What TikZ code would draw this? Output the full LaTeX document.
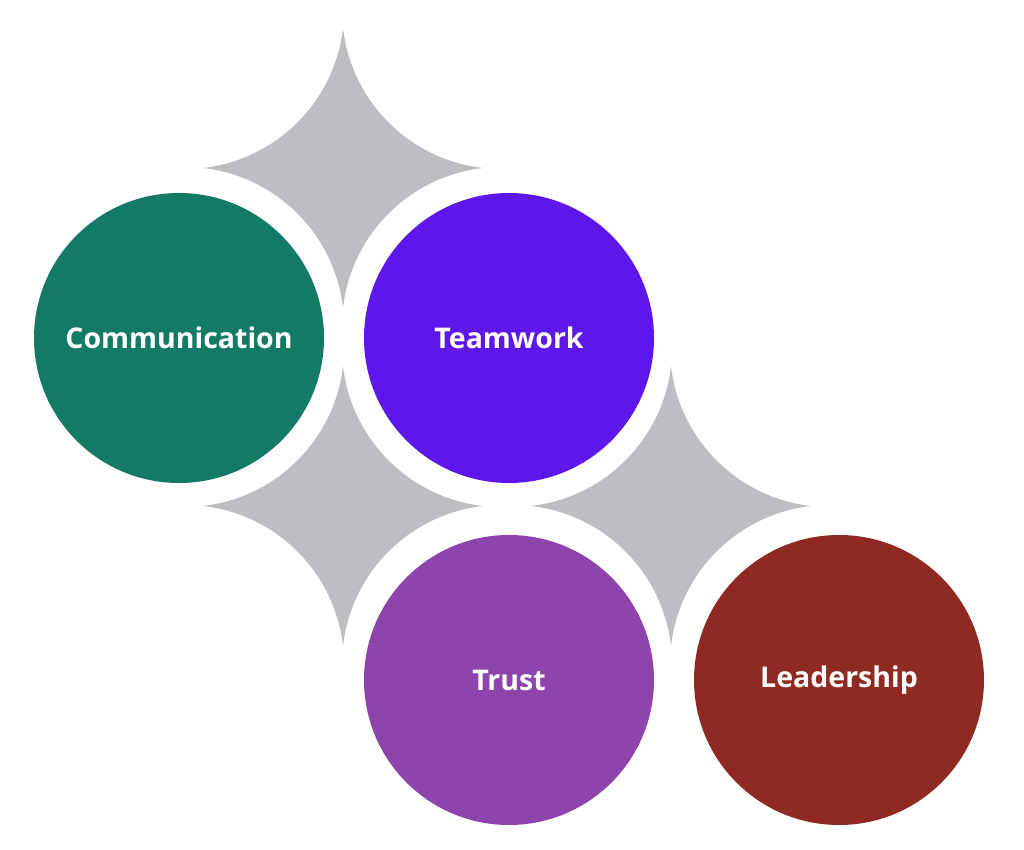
\documentclass[tikz,border=0pt]{standalone}
\usepackage{fontspec}
\setmainfont{Open Sans}
\definecolor{cteal}{HTML}{137A65}
\definecolor{cviolet}{HTML}{5E17EB}
\definecolor{cplum}{HTML}{8E44AD}
\definecolor{crust}{HTML}{8F2A22}
\definecolor{cgray}{HTML}{BDBEC2}
\newcommand\gstar[3]{% name, cx, cy
  \fill[cgray] (#2,#3+140) arc[start angle=186.5,end angle=263.5,radius=159.02]
    arc[start angle=96.5,end angle=173.5,radius=159.02]
    arc[start angle=6.5,end angle=83.5,radius=159.02]
    arc[start angle=276.5,end angle=353.5,radius=159.02] -- cycle;
  \coordinate (#1) at (#2,#3);}
\tikzset{
  bubble/.style={circle, minimum size=290pt, inner sep=0pt, text=white,
    font=\fontsize{28.5}{32}\selectfont\bfseries}
}
\begin{document}
\begin{tikzpicture}[x=1pt,y=1pt]
\useasboundingbox (0,0) rectangle (1024,850);
\gstar{s1}{343}{682}
\gstar{s2}{343}{344}
\gstar{s3}{671}{344}
\node[bubble, fill=cteal] (comm) at (179,512) {Communication};
\node[bubble, fill=cviolet] (team) at (509,512) {Teamwork};
\node[bubble, fill=cplum] (trust) at (509,170) {Trust};
\node[bubble, fill=crust] (lead) at (839,170) {Leadership};
\end{tikzpicture}
\end{document}
